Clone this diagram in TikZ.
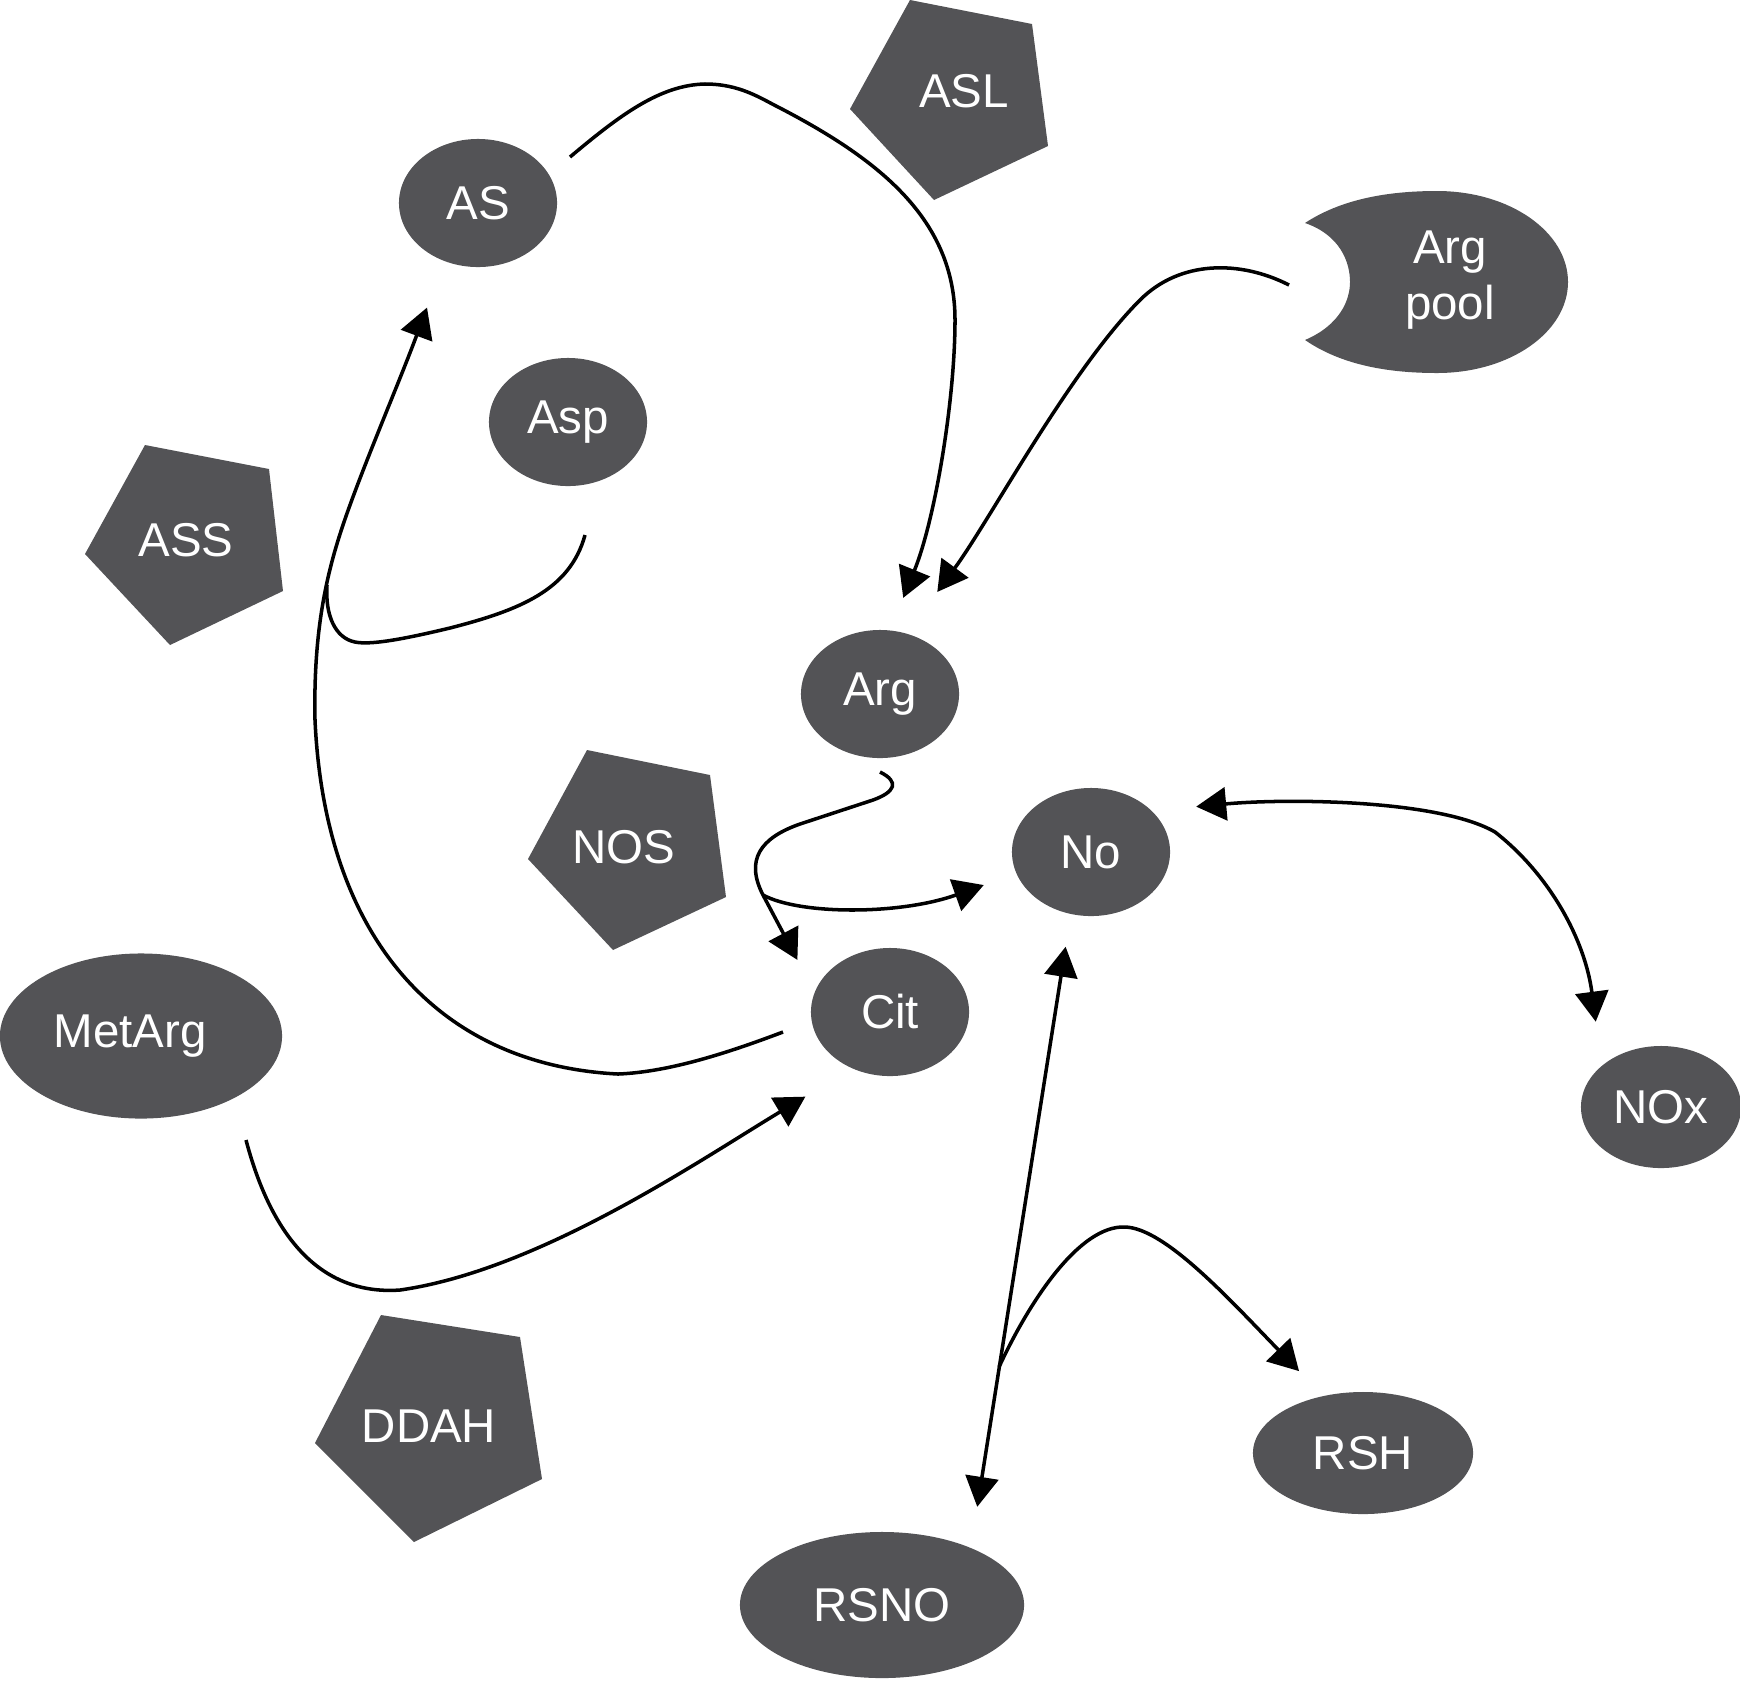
\documentclass[tikz,border=0pt]{standalone}
\usepackage{fontspec}
\setmainfont{Liberation Sans}
\usetikzlibrary{shapes.geometric,arrows.meta}
\definecolor{molgray}{RGB}{83,83,86}
\tikzset{
  mol/.style={ellipse, fill=molgray, text=white, inner sep=0pt, font=\fontsize{13.5}{15.7}\selectfont},
  lbl/.style={text=white, inner sep=0pt, align=center, font=\fontsize{13.5}{15.7}\selectfont},
  link/.style={line width=1pt}
}
\begin{document}
\begin{tikzpicture}[x=0.01cm, y=-0.01cm, >={Triangle[length=3mm,width=3.3mm]}]
  \useasboundingbox (0,0) rectangle (1740,1684);

  % enzymes
  \fill[molgray] (910,0) -- (1032,24) -- (1048,146) -- (934,200) -- (850,109) -- cycle;
  \fill[molgray] (145,445) -- (269,469) -- (283,591) -- (170,645) -- (85,554) -- cycle;
  \fill[molgray] (587,750) -- (710,775) -- (726,897) -- (613,950) -- (528,859) -- cycle;
  \fill[molgray] (381,1315) -- (520,1337) -- (542,1479) -- (414,1542) -- (315,1443) -- cycle;
  \node[lbl] (ASL) at (964,91) {ASL};
  \node[lbl] (ASS) at (186,540) {ASS};
  \node[lbl] (NOS) at (624,847) {NOS};
  \node[lbl] (DDAH) at (429,1426) {DDAH};

  % arginine pool
  \fill[molgray] (1305,223) .. controls (1340,200) and (1385,191) .. (1437,191)
    .. controls (1510,191) and (1568,232) .. (1568,282)
    .. controls (1568,332) and (1510,373) .. (1437,373)
    .. controls (1385,373) and (1340,364) .. (1305,340)
    .. controls (1340,325) and (1350,300) .. (1350,282)
    .. controls (1350,262) and (1340,235) .. (1305,223) -- cycle;
  \node[lbl] (pool) at (1450,280) {Arg\\pool};

  \node[mol, minimum width=1.58cm, minimum height=1.28cm] (AS) at (478,203) {AS};
  \node[mol, minimum width=1.58cm, minimum height=1.28cm] (Asp) at (568,422) {Asp};
  \node[mol, minimum width=1.58cm, minimum height=1.28cm] (Arg) at (880,694) {Arg};
  \node[mol, minimum width=1.58cm, minimum height=1.28cm] (No) at (1091,852) {No};
  \node[mol, minimum width=1.58cm, minimum height=1.28cm] (Cit) at (890,1012) {Cit};
  \node[mol, minimum width=2.82cm, minimum height=1.65cm] (MetArg) at (141,1036) {\hspace*{-0.22cm}MetArg};
  \node[mol, minimum width=1.60cm, minimum height=1.22cm] (NOx) at (1661,1107) {NOx};
  \node[mol, minimum width=2.20cm, minimum height=1.22cm] (RSH) at (1363,1453) {RSH};
  \node[mol, minimum width=2.84cm, minimum height=1.46cm] (RSNO) at (882,1605) {RSNO};

  \coordinate (as-out) at (570,157);
  \coordinate (pool-out) at (1289,285);
  \coordinate (asp-out) at (585,535);
  \coordinate (join) at (327,585);
  \coordinate (cit-out) at (783,1032);
  \coordinate (arg-out) at (880,772);
  \coordinate (split) at (763,895);
  \coordinate (rsh-split) at (999,1367);
  \coordinate (metarg-out) at (246,1140);

  \draw[link,->,shorten >=0.345cm] (as-out) .. controls (620,115) and (660,85) .. (705,84)
    .. controls (740,84) and (760,98) .. (780,108) .. controls (880,160) and (955,220) .. (955,320)
    .. controls (955,400) and (935,520) .. (Arg.81);
  \draw[link,->,shorten >=0.51cm] (pool-out) .. controls (1240,260) and (1180,260) .. (1140,300)
    .. controls (1070,370) and (990,520) .. (Arg.66);
  \draw[link,->,shorten >=0.49cm] (cit-out) .. controls (730,1052) and (670,1072) .. (618,1074)
    .. controls (440,1065) and (325,940) .. (315,720) .. controls (313,620) and (330,560) .. (350,505)
    .. controls (370,450) and (400,380) .. (AS.240);
  \draw[link] (asp-out) .. controls (570,590) and (520,610) .. (450,628)
    .. controls (400,640) and (370,645) .. (355,642) .. controls (335,638) and (325,615) .. (join);
  \draw[link,->,shorten >=0.36cm] (arg-out) .. controls (900,782) and (895,792) .. (873,800) -- (800,824)
    .. controls (760,838) and (745,860) .. (split) -- (Cit.165);
  \draw[link,->,shorten >=0.34cm] (split) .. controls (800,915) and (900,915) .. (No.196);
  \draw[link,<->,shorten <=0.44cm,shorten >=0.44cm] (No.34) .. controls (1290,798) and (1440,800) .. (1495,832)
    .. controls (1550,875) and (1585,940) .. (NOx.145);
  \draw[link,<->,shorten <=0.41cm,shorten >=0.325cm] (RSNO.33) -- (No.252);
  \draw[link,->,shorten >=0.34cm] (rsh-split) .. controls (1030,1300) and (1080,1225) .. (1125,1227)
    .. controls (1165,1228) and (1230,1300) .. (RSH.125);
  \draw[link,->,shorten >=0.54cm] (metarg-out) .. controls (275,1250) and (330,1295) .. (400,1290)
    .. controls (540,1270) and (700,1160) .. (Cit.236);
\end{tikzpicture}
\end{document}
